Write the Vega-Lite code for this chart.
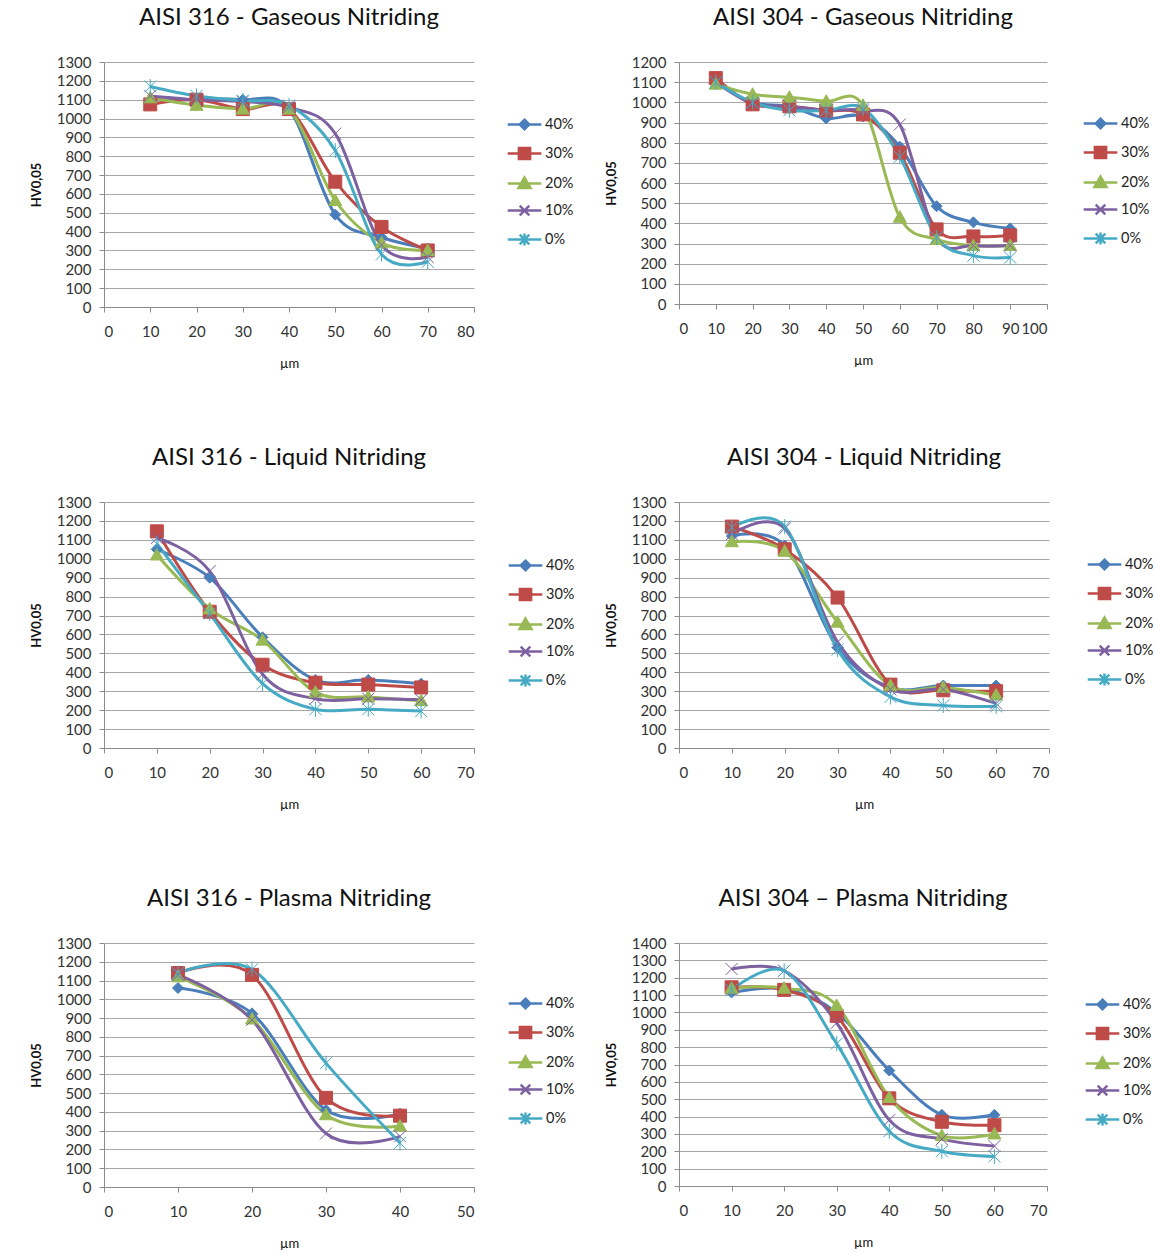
{
"$schema": "https://vega.github.io/schema/vega-lite/v6.json",
"background": "white",
"padding": {"left": 30, "top": 6, "right": 0, "bottom": 0},
"config": {
  "view": {"stroke": null},
  "font": "Lato",
  "title": {"font": "Lato", "fontSize": 24, "fontWeight": "normal", "color": "#111", "offset": 25, "frame": "group", "anchor": "middle"},
  "axis": {"labelFont": "Lato", "labelFontSize": 15, "labelColor": "#333", "titleFont": "Lato", "titleFontSize": 13, "titleColor": "#111", "domainColor": "#8c8c8c", "tickColor": "#8c8c8c", "gridColor": "#a6a6a6", "tickSize": 5, "format": "d"},
  "axisX": {"grid": false, "labelPadding": 12, "titlePadding": 18, "titleFontWeight": "normal"},
  "axisY": {"grid": true, "labelPadding": 8, "titlePadding": 13, "titleFontWeight": "bold"},
  "legend": {"title": null, "orient": "none", "symbolSize": 256, "labelOffset": 11, "rowPadding": 7, "labelFont": "Lato", "labelFontSize": 14.5, "labelColor": "#222", "symbolStrokeWidth": 2.5,
    "symbolType": {"expr": "datum.value==='40%'?'M-2.1,0H2.1M0,-0.6L0.6,0L0,0.6L-0.6,0Z':datum.value==='30%'?'M-2.1,0H2.1M-0.7,-0.7H0.7V0.7H-0.7Z':datum.value==='20%'?'M-2.1,0H2.1M0,-0.75L0.75,0.55H-0.75Z':datum.value==='10%'?'M-2.1,0H2.1M-0.6,-0.6L0.6,0.6M-0.6,0.6L0.6,-0.6':'M-2.1,0H2.1M-0.6,-0.6L0.6,0.6M-0.6,0.6L0.6,-0.6M0,-0.75V0.75'"},
    "symbolFillColor": {"expr": "datum.value==='40%'?'#4a7ebb':datum.value==='30%'?'#be4b48':datum.value==='20%'?'#98b954':datum.value==='10%'?'#7d60a0':'#46aac5'"}
  }
},
"datasets": {
  "g316": [
    {"x":10,"y":1100,"s":"40%"},{"x":20,"y":1100,"s":"40%"},{"x":30,"y":1100,"s":"40%"},{"x":40,"y":1050,"s":"40%"},{"x":50,"y":490,"s":"40%"},{"x":60,"y":370,"s":"40%"},{"x":70,"y":310,"s":"40%"},
    {"x":10,"y":1075,"s":"30%"},{"x":20,"y":1100,"s":"30%"},{"x":30,"y":1050,"s":"30%"},{"x":40,"y":1050,"s":"30%"},{"x":50,"y":665,"s":"30%"},{"x":60,"y":425,"s":"30%"},{"x":70,"y":300,"s":"30%"},
    {"x":10,"y":1110,"s":"20%"},{"x":20,"y":1070,"s":"20%"},{"x":30,"y":1050,"s":"20%"},{"x":40,"y":1050,"s":"20%"},{"x":50,"y":565,"s":"20%"},{"x":60,"y":340,"s":"20%"},{"x":70,"y":300,"s":"20%"},
    {"x":10,"y":1120,"s":"10%"},{"x":20,"y":1100,"s":"10%"},{"x":30,"y":1090,"s":"10%"},{"x":40,"y":1060,"s":"10%"},{"x":50,"y":920,"s":"10%"},{"x":60,"y":330,"s":"10%"},{"x":70,"y":265,"s":"10%"},
    {"x":10,"y":1170,"s":"0%"},{"x":20,"y":1120,"s":"0%"},{"x":30,"y":1095,"s":"0%"},{"x":40,"y":1070,"s":"0%"},{"x":50,"y":830,"s":"0%"},{"x":60,"y":280,"s":"0%"},{"x":70,"y":240,"s":"0%"}
  ],
  "g304": [
    {"x":10,"y":1100,"s":"40%"},{"x":20,"y":1000,"s":"40%"},{"x":30,"y":980,"s":"40%"},{"x":40,"y":920,"s":"40%"},{"x":50,"y":930,"s":"40%"},{"x":60,"y":780,"s":"40%"},{"x":70,"y":485,"s":"40%"},{"x":80,"y":405,"s":"40%"},{"x":90,"y":375,"s":"40%"},
    {"x":10,"y":1120,"s":"30%"},{"x":20,"y":990,"s":"30%"},{"x":30,"y":980,"s":"30%"},{"x":40,"y":960,"s":"30%"},{"x":50,"y":940,"s":"30%"},{"x":60,"y":750,"s":"30%"},{"x":70,"y":370,"s":"30%"},{"x":80,"y":335,"s":"30%"},{"x":90,"y":340,"s":"30%"},
    {"x":10,"y":1090,"s":"20%"},{"x":20,"y":1040,"s":"20%"},{"x":30,"y":1025,"s":"20%"},{"x":40,"y":1005,"s":"20%"},{"x":50,"y":985,"s":"20%"},{"x":60,"y":430,"s":"20%"},{"x":70,"y":320,"s":"20%"},{"x":80,"y":290,"s":"20%"},{"x":90,"y":290,"s":"20%"},
    {"x":10,"y":1100,"s":"10%"},{"x":20,"y":995,"s":"10%"},{"x":30,"y":980,"s":"10%"},{"x":40,"y":960,"s":"10%"},{"x":50,"y":960,"s":"10%"},{"x":60,"y":890,"s":"10%"},{"x":70,"y":330,"s":"10%"},{"x":80,"y":290,"s":"10%"},{"x":90,"y":290,"s":"10%"},
    {"x":10,"y":1100,"s":"0%"},{"x":20,"y":1000,"s":"0%"},{"x":30,"y":960,"s":"0%"},{"x":40,"y":960,"s":"0%"},{"x":50,"y":970,"s":"0%"},{"x":60,"y":730,"s":"0%"},{"x":70,"y":330,"s":"0%"},{"x":80,"y":240,"s":"0%"},{"x":90,"y":230,"s":"0%"}
  ],
  "l316": [
    {"x":10,"y":1050,"s":"40%"},{"x":20,"y":900,"s":"40%"},{"x":30,"y":585,"s":"40%"},{"x":40,"y":360,"s":"40%"},{"x":50,"y":360,"s":"40%"},{"x":60,"y":340,"s":"40%"},
    {"x":10,"y":1145,"s":"30%"},{"x":20,"y":720,"s":"30%"},{"x":30,"y":440,"s":"30%"},{"x":40,"y":345,"s":"30%"},{"x":50,"y":335,"s":"30%"},{"x":60,"y":320,"s":"30%"},
    {"x":10,"y":1020,"s":"20%"},{"x":20,"y":735,"s":"20%"},{"x":30,"y":570,"s":"20%"},{"x":40,"y":295,"s":"20%"},{"x":50,"y":270,"s":"20%"},{"x":60,"y":250,"s":"20%"},
    {"x":10,"y":1110,"s":"10%"},{"x":20,"y":935,"s":"10%"},{"x":30,"y":390,"s":"10%"},{"x":40,"y":260,"s":"10%"},{"x":50,"y":260,"s":"10%"},{"x":60,"y":255,"s":"10%"},
    {"x":10,"y":1080,"s":"0%"},{"x":20,"y":710,"s":"0%"},{"x":30,"y":340,"s":"0%"},{"x":40,"y":205,"s":"0%"},{"x":50,"y":205,"s":"0%"},{"x":60,"y":195,"s":"0%"}
  ],
  "l304": [
    {"x":10,"y":1120,"s":"40%"},{"x":20,"y":1070,"s":"40%"},{"x":30,"y":530,"s":"40%"},{"x":40,"y":320,"s":"40%"},{"x":50,"y":330,"s":"40%"},{"x":60,"y":330,"s":"40%"},
    {"x":10,"y":1170,"s":"30%"},{"x":20,"y":1050,"s":"30%"},{"x":30,"y":795,"s":"30%"},{"x":40,"y":335,"s":"30%"},{"x":50,"y":305,"s":"30%"},{"x":60,"y":300,"s":"30%"},
    {"x":10,"y":1090,"s":"20%"},{"x":20,"y":1040,"s":"20%"},{"x":30,"y":665,"s":"20%"},{"x":40,"y":330,"s":"20%"},{"x":50,"y":320,"s":"20%"},{"x":60,"y":280,"s":"20%"},
    {"x":10,"y":1130,"s":"10%"},{"x":20,"y":1160,"s":"10%"},{"x":30,"y":560,"s":"10%"},{"x":40,"y":310,"s":"10%"},{"x":50,"y":310,"s":"10%"},{"x":60,"y":235,"s":"10%"},
    {"x":10,"y":1165,"s":"0%"},{"x":20,"y":1170,"s":"0%"},{"x":30,"y":520,"s":"0%"},{"x":40,"y":270,"s":"0%"},{"x":50,"y":225,"s":"0%"},{"x":60,"y":220,"s":"0%"}
  ],
  "p316": [
    {"x":10,"y":1060,"s":"40%"},{"x":20,"y":925,"s":"40%"},{"x":30,"y":410,"s":"40%"},{"x":40,"y":390,"s":"40%"},
    {"x":10,"y":1140,"s":"30%"},{"x":20,"y":1130,"s":"30%"},{"x":30,"y":475,"s":"30%"},{"x":40,"y":380,"s":"30%"},
    {"x":10,"y":1120,"s":"20%"},{"x":20,"y":895,"s":"20%"},{"x":30,"y":385,"s":"20%"},{"x":40,"y":325,"s":"20%"},
    {"x":10,"y":1130,"s":"10%"},{"x":20,"y":890,"s":"10%"},{"x":30,"y":285,"s":"10%"},{"x":40,"y":270,"s":"10%"},
    {"x":10,"y":1140,"s":"0%"},{"x":20,"y":1160,"s":"0%"},{"x":30,"y":660,"s":"0%"},{"x":40,"y":235,"s":"0%"}
  ],
  "p304": [
    {"x":10,"y":1115,"s":"40%"},{"x":20,"y":1135,"s":"40%"},{"x":30,"y":1000,"s":"40%"},{"x":40,"y":665,"s":"40%"},{"x":50,"y":410,"s":"40%"},{"x":60,"y":410,"s":"40%"},
    {"x":10,"y":1145,"s":"30%"},{"x":20,"y":1130,"s":"30%"},{"x":30,"y":980,"s":"30%"},{"x":40,"y":505,"s":"30%"},{"x":50,"y":370,"s":"30%"},{"x":60,"y":350,"s":"30%"},
    {"x":10,"y":1140,"s":"20%"},{"x":20,"y":1140,"s":"20%"},{"x":30,"y":1040,"s":"20%"},{"x":40,"y":510,"s":"20%"},{"x":50,"y":290,"s":"20%"},{"x":60,"y":300,"s":"20%"},
    {"x":10,"y":1250,"s":"10%"},{"x":20,"y":1240,"s":"10%"},{"x":30,"y":940,"s":"10%"},{"x":40,"y":380,"s":"10%"},{"x":50,"y":270,"s":"10%"},{"x":60,"y":230,"s":"10%"},
    {"x":10,"y":1130,"s":"0%"},{"x":20,"y":1240,"s":"0%"},{"x":30,"y":820,"s":"0%"},{"x":40,"y":315,"s":"0%"},{"x":50,"y":200,"s":"0%"},{"x":60,"y":170,"s":"0%"}
  ]
},
"columns": 2,
"spacing": {"row": 76, "column": 30},
"resolve": {"scale": {"x": "independent", "y": "independent", "color": "independent", "shape": "independent", "stroke": "independent", "fill": "independent"}},
"concat": [
  {
    "width": 370, "height": 245, "data": {"name": "g316"},
    "title": {"text": "AISI 316 - Gaseous Nitriding"},
    "encoding": {
      "x": {"field": "x", "type": "quantitative", "title": "µm", "scale": {"domain": [0, 80]}, "axis": {"values": [0,10,20,30,40,50,60,70,80]}},
      "y": {"field": "y", "type": "quantitative", "title": "HV0,05", "scale": {"domain": [0, 1300]}, "axis": {"values": [0,100,200,300,400,500,600,700,800,900,1000,1100,1200,1300]}}
    },
    "layer": [
      {"mark": {"type": "line", "interpolate": "cardinal", "strokeWidth": 3},
       "encoding": {"color": {"field": "s", "type": "nominal", "scale": {"domain": ["40%","30%","20%","10%","0%"], "range": ["#4a7ebb","#be4b48","#98b954","#7d60a0","#46aac5"]}, "legend": {"legendX": 411, "legendY": 53}}}},
      {"mark": {"type": "point", "filled": true, "opacity": 1, "size": 100, "strokeWidth": 1},
       "encoding": {
         "shape": {"field": "s", "type": "nominal", "legend": null, "scale": {"domain": ["0%","10%","20%","30%","40%"], "range": ["M-1.2,-1.2L1.2,1.2M-1.2,1.2L1.2,-1.2M0,-1.5V1.5","M-1.2,-1.2L1.2,1.2M-1.2,1.2L1.2,-1.2","M0,-1.3L1.3,1H-1.3Z","M-1.3,-1.3H1.3V1.3H-1.3Z","M0,-1.1L1.1,0L0,1.1L-1.1,0Z"]}},
         "fill": {"field": "s", "type": "nominal", "legend": null, "scale": {"domain": ["0%","10%","20%","30%","40%"], "range": ["#46aac5","#7d60a0","#98b954","#be4b48","#4a7ebb"]}},
         "stroke": {"field": "s", "type": "nominal", "legend": null, "scale": {"domain": ["0%","10%","20%","30%","40%"], "range": ["#46aac5","#7d60a0","#98b954","#be4b48","#4a7ebb"]}}
       }}
    ]
  },
  {
    "width": 368, "height": 242, "data": {"name": "g304"},
    "title": {"text": "AISI 304 - Gaseous Nitriding"},
    "encoding": {
      "x": {"field": "x", "type": "quantitative", "title": "µm", "scale": {"domain": [0, 100]}, "axis": {"values": [0,10,20,30,40,50,60,70,80,90,100]}},
      "y": {"field": "y", "type": "quantitative", "title": "HV0,05", "scale": {"domain": [0, 1200]}, "axis": {"values": [0,100,200,300,400,500,600,700,800,900,1000,1100,1200]}}
    },
    "layer": [
      {"mark": {"type": "line", "interpolate": "cardinal", "strokeWidth": 3},
       "encoding": {"color": {"field": "s", "type": "nominal", "scale": {"domain": ["40%","30%","20%","10%","0%"], "range": ["#4a7ebb","#be4b48","#98b954","#7d60a0","#46aac5"]}, "legend": {"legendX": 412, "legendY": 52}}}},
      {"mark": {"type": "point", "filled": true, "opacity": 1, "size": 100, "strokeWidth": 1},
       "encoding": {
         "shape": {"field": "s", "type": "nominal", "legend": null, "scale": {"domain": ["0%","10%","20%","30%","40%"], "range": ["M-1.2,-1.2L1.2,1.2M-1.2,1.2L1.2,-1.2M0,-1.5V1.5","M-1.2,-1.2L1.2,1.2M-1.2,1.2L1.2,-1.2","M0,-1.3L1.3,1H-1.3Z","M-1.3,-1.3H1.3V1.3H-1.3Z","M0,-1.1L1.1,0L0,1.1L-1.1,0Z"]}},
         "fill": {"field": "s", "type": "nominal", "legend": null, "scale": {"domain": ["0%","10%","20%","30%","40%"], "range": ["#46aac5","#7d60a0","#98b954","#be4b48","#4a7ebb"]}},
         "stroke": {"field": "s", "type": "nominal", "legend": null, "scale": {"domain": ["0%","10%","20%","30%","40%"], "range": ["#46aac5","#7d60a0","#98b954","#be4b48","#4a7ebb"]}}
       }}
    ]
  },
  {
    "width": 370, "height": 246, "data": {"name": "l316"},
    "title": {"text": "AISI 316 - Liquid Nitriding"},
    "encoding": {
      "x": {"field": "x", "type": "quantitative", "title": "µm", "scale": {"domain": [0, 70]}, "axis": {"values": [0,10,20,30,40,50,60,70]}},
      "y": {"field": "y", "type": "quantitative", "title": "HV0,05", "scale": {"domain": [0, 1300]}, "axis": {"values": [0,100,200,300,400,500,600,700,800,900,1000,1100,1200,1300]}}
    },
    "layer": [
      {"mark": {"type": "line", "interpolate": "cardinal", "strokeWidth": 3},
       "encoding": {"color": {"field": "s", "type": "nominal", "scale": {"domain": ["40%","30%","20%","10%","0%"], "range": ["#4a7ebb","#be4b48","#98b954","#7d60a0","#46aac5"]}, "legend": {"legendX": 412, "legendY": 54}}}},
      {"mark": {"type": "point", "filled": true, "opacity": 1, "size": 100, "strokeWidth": 1},
       "encoding": {
         "shape": {"field": "s", "type": "nominal", "legend": null, "scale": {"domain": ["0%","10%","20%","30%","40%"], "range": ["M-1.2,-1.2L1.2,1.2M-1.2,1.2L1.2,-1.2M0,-1.5V1.5","M-1.2,-1.2L1.2,1.2M-1.2,1.2L1.2,-1.2","M0,-1.3L1.3,1H-1.3Z","M-1.3,-1.3H1.3V1.3H-1.3Z","M0,-1.1L1.1,0L0,1.1L-1.1,0Z"]}},
         "fill": {"field": "s", "type": "nominal", "legend": null, "scale": {"domain": ["0%","10%","20%","30%","40%"], "range": ["#46aac5","#7d60a0","#98b954","#be4b48","#4a7ebb"]}},
         "stroke": {"field": "s", "type": "nominal", "legend": null, "scale": {"domain": ["0%","10%","20%","30%","40%"], "range": ["#46aac5","#7d60a0","#98b954","#be4b48","#4a7ebb"]}}
       }}
    ]
  },
  {
    "width": 370, "height": 246, "data": {"name": "l304"},
    "title": {"text": "AISI 304 - Liquid Nitriding"},
    "encoding": {
      "x": {"field": "x", "type": "quantitative", "title": "µm", "scale": {"domain": [0, 70]}, "axis": {"values": [0,10,20,30,40,50,60,70]}},
      "y": {"field": "y", "type": "quantitative", "title": "HV0,05", "scale": {"domain": [0, 1300]}, "axis": {"values": [0,100,200,300,400,500,600,700,800,900,1000,1100,1200,1300]}}
    },
    "layer": [
      {"mark": {"type": "line", "interpolate": "cardinal", "strokeWidth": 3},
       "encoding": {"color": {"field": "s", "type": "nominal", "scale": {"domain": ["40%","30%","20%","10%","0%"], "range": ["#4a7ebb","#be4b48","#98b954","#7d60a0","#46aac5"]}, "legend": {"legendX": 416, "legendY": 53}}}},
      {"mark": {"type": "point", "filled": true, "opacity": 1, "size": 100, "strokeWidth": 1},
       "encoding": {
         "shape": {"field": "s", "type": "nominal", "legend": null, "scale": {"domain": ["0%","10%","20%","30%","40%"], "range": ["M-1.2,-1.2L1.2,1.2M-1.2,1.2L1.2,-1.2M0,-1.5V1.5","M-1.2,-1.2L1.2,1.2M-1.2,1.2L1.2,-1.2","M0,-1.3L1.3,1H-1.3Z","M-1.3,-1.3H1.3V1.3H-1.3Z","M0,-1.1L1.1,0L0,1.1L-1.1,0Z"]}},
         "fill": {"field": "s", "type": "nominal", "legend": null, "scale": {"domain": ["0%","10%","20%","30%","40%"], "range": ["#46aac5","#7d60a0","#98b954","#be4b48","#4a7ebb"]}},
         "stroke": {"field": "s", "type": "nominal", "legend": null, "scale": {"domain": ["0%","10%","20%","30%","40%"], "range": ["#46aac5","#7d60a0","#98b954","#be4b48","#4a7ebb"]}}
       }}
    ]
  },
  {
    "width": 370, "height": 244, "data": {"name": "p316"},
    "title": {"text": "AISI 316 - Plasma Nitriding"},
    "encoding": {
      "x": {"field": "x", "type": "quantitative", "title": "µm", "scale": {"domain": [0, 50]}, "axis": {"values": [0,10,20,30,40,50]}},
      "y": {"field": "y", "type": "quantitative", "title": "HV0,05", "scale": {"domain": [0, 1300]}, "axis": {"values": [0,100,200,300,400,500,600,700,800,900,1000,1100,1200,1300]}}
    },
    "layer": [
      {"mark": {"type": "line", "interpolate": "cardinal", "strokeWidth": 3},
       "encoding": {"color": {"field": "s", "type": "nominal", "scale": {"domain": ["40%","30%","20%","10%","0%"], "range": ["#4a7ebb","#be4b48","#98b954","#7d60a0","#46aac5"]}, "legend": {"legendX": 412, "legendY": 51}}}},
      {"mark": {"type": "point", "filled": true, "opacity": 1, "size": 100, "strokeWidth": 1},
       "encoding": {
         "shape": {"field": "s", "type": "nominal", "legend": null, "scale": {"domain": ["0%","10%","20%","30%","40%"], "range": ["M-1.2,-1.2L1.2,1.2M-1.2,1.2L1.2,-1.2M0,-1.5V1.5","M-1.2,-1.2L1.2,1.2M-1.2,1.2L1.2,-1.2","M0,-1.3L1.3,1H-1.3Z","M-1.3,-1.3H1.3V1.3H-1.3Z","M0,-1.1L1.1,0L0,1.1L-1.1,0Z"]}},
         "fill": {"field": "s", "type": "nominal", "legend": null, "scale": {"domain": ["0%","10%","20%","30%","40%"], "range": ["#46aac5","#7d60a0","#98b954","#be4b48","#4a7ebb"]}},
         "stroke": {"field": "s", "type": "nominal", "legend": null, "scale": {"domain": ["0%","10%","20%","30%","40%"], "range": ["#46aac5","#7d60a0","#98b954","#be4b48","#4a7ebb"]}}
       }}
    ]
  },
  {
    "width": 368, "height": 243, "data": {"name": "p304"},
    "title": {"text": "AISI 304 – Plasma Nitriding"},
    "encoding": {
      "x": {"field": "x", "type": "quantitative", "title": "µm", "scale": {"domain": [0, 70]}, "axis": {"values": [0,10,20,30,40,50,60,70]}},
      "y": {"field": "y", "type": "quantitative", "title": "HV0,05", "scale": {"domain": [0, 1400]}, "axis": {"values": [0,100,200,300,400,500,600,700,800,900,1000,1100,1200,1300,1400]}}
    },
    "layer": [
      {"mark": {"type": "line", "interpolate": "cardinal", "strokeWidth": 3},
       "encoding": {"color": {"field": "s", "type": "nominal", "scale": {"domain": ["40%","30%","20%","10%","0%"], "range": ["#4a7ebb","#be4b48","#98b954","#7d60a0","#46aac5"]}, "legend": {"legendX": 414, "legendY": 52}}}},
      {"mark": {"type": "point", "filled": true, "opacity": 1, "size": 100, "strokeWidth": 1},
       "encoding": {
         "shape": {"field": "s", "type": "nominal", "legend": null, "scale": {"domain": ["0%","10%","20%","30%","40%"], "range": ["M-1.2,-1.2L1.2,1.2M-1.2,1.2L1.2,-1.2M0,-1.5V1.5","M-1.2,-1.2L1.2,1.2M-1.2,1.2L1.2,-1.2","M0,-1.3L1.3,1H-1.3Z","M-1.3,-1.3H1.3V1.3H-1.3Z","M0,-1.1L1.1,0L0,1.1L-1.1,0Z"]}},
         "fill": {"field": "s", "type": "nominal", "legend": null, "scale": {"domain": ["0%","10%","20%","30%","40%"], "range": ["#46aac5","#7d60a0","#98b954","#be4b48","#4a7ebb"]}},
         "stroke": {"field": "s", "type": "nominal", "legend": null, "scale": {"domain": ["0%","10%","20%","30%","40%"], "range": ["#46aac5","#7d60a0","#98b954","#be4b48","#4a7ebb"]}}
       }}
    ]
  }
]
}
